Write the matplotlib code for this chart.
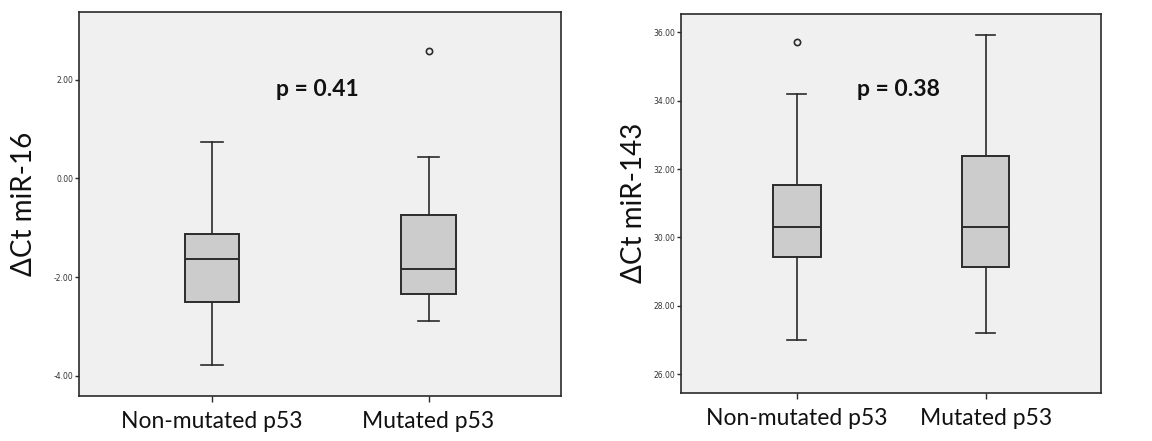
import matplotlib
matplotlib.use("Agg")
import matplotlib.pyplot as plt
from matplotlib.ticker import FormatStrFormatter

categories = ["Non-mutated p53", "Mutated p53"]

# miR-16 box statistics (whisker low, Q1, median, Q3, whisker high)
mir16_whislo = [-3.78, -2.90]
mir16_q1 = [-2.50, -2.34]
mir16_med = [-1.63, -1.83]
mir16_q3 = [-1.13, -0.74]
mir16_whishi = [0.73, 0.43]
mir16_fliers = [[], [2.57]]
mir16_p = "p = 0.41"
mir16_ticks = [-4, -2, 0, 2]

# miR-143 box statistics
mir143_whislo = [27.00, 27.22]
mir143_q1 = [29.42, 29.13]
mir143_med = [30.30, 30.30]
mir143_q3 = [31.53, 32.38]
mir143_whishi = [34.20, 35.92]
mir143_fliers = [[35.71], []]
mir143_p = "p = 0.38"
mir143_ticks = [26, 28, 30, 32, 34, 36]

FONT = ["Lato", "DejaVu Sans"]
AXBG = "#f0f0f0"
BOXFC = "#cccccc"
LC = "#2b2b2b"

fig = plt.figure(figsize=(11.52, 4.41), dpi=100)
ax1 = fig.add_axes([0.0686, 0.102, 0.418, 0.871])
ax2 = fig.add_axes([0.591, 0.1095, 0.3646, 0.8587])


def draw(ax, whislo, q1, med, q3, whishi, fliers, ptext, ylim, ticks, ylabel, ptxt_xy, ylabel_x):
    stats = []
    for i in range(len(categories)):
        stats.append(dict(whislo=whislo[i], q1=q1[i], med=med[i], q3=q3[i],
                          whishi=whishi[i], fliers=fliers[i], label=categories[i]))
    ax.set_facecolor(AXBG)
    ax.bxp(stats, positions=[1, 2], widths=0.25, patch_artist=True,
           boxprops=dict(facecolor=BOXFC, edgecolor=LC, linewidth=1.4),
           medianprops=dict(color=LC, linewidth=1.4),
           whiskerprops=dict(color=LC, linewidth=1.2),
           capprops=dict(color=LC, linewidth=1.2),
           flierprops=dict(marker="o", markersize=4.5, markerfacecolor="none",
                           markeredgecolor=LC, markeredgewidth=1.2),
           capwidths=0.1)
    ax.set_xlim(0.385, 2.61)
    ax.set_ylim(*ylim)
    ax.set_yticks(ticks)
    ax.yaxis.set_major_formatter(FormatStrFormatter("%.2f"))
    ax.set_xticks([1, 2])
    ax.set_xticklabels(categories, fontfamily=FONT, fontsize=16.5, color="#111111")
    for lab in ax.get_yticklabels():
        lab.set_fontsize(5.5)
        lab.set_color("#333333")
    ax.tick_params(axis="y", direction="out", length=3, width=1, color=LC, pad=1)
    ax.tick_params(axis="x", direction="out", length=4, width=1, color=LC, pad=7)
    for s in ax.spines.values():
        s.set_color(LC)
        s.set_linewidth(1.2)
    ax.set_ylabel(ylabel, fontfamily=FONT, fontsize=20, color="#111111")
    ax.yaxis.set_label_coords(ylabel_x, 0.5)
    ax.text(ptxt_xy[0], ptxt_xy[1], ptext, fontfamily=FONT, fontsize=16.5,
            fontweight="bold", ha="center", va="center", color="#111111")


draw(ax1, mir16_whislo, mir16_q1, mir16_med, mir16_q3, mir16_whishi, mir16_fliers,
     mir16_p, (-4.41, 3.37), mir16_ticks, "\u0394Ct miR-16", (1.487, 1.79), -0.087)
draw(ax2, mir143_whislo, mir143_q1, mir143_med, mir143_q3, mir143_whishi, mir143_fliers,
     mir143_p, (25.46, 36.535), mir143_ticks, "\u0394Ct miR-143", (1.54, 34.33), -0.08)

fig.savefig("out.png", dpi=100, facecolor="white")
